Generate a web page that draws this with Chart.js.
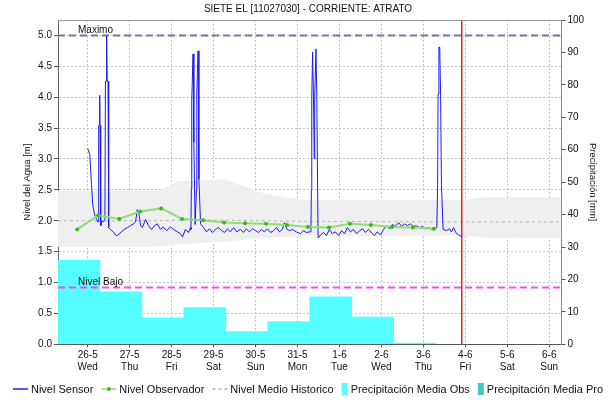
<!DOCTYPE html>
<html>
<head>
<meta charset="utf-8">
<script src="https://cdn.jsdelivr.net/npm/chart.js@4.4.0/dist/chart.umd.min.js"></script>
<style>
html, body { margin: 0; padding: 0; background: #fff; }
</style>
</head>
<body>
<canvas id="chart" width="616" height="405"></canvas>
<script>
// eje x en dias contados desde 26-5 00:00
var diasEtiqueta = ['26-5','27-5','28-5','29-5','30-5','31-5','1-6','2-6','3-6','4-6','5-6','6-6'];
var diasSemana = ['Wed','Thu','Fri','Sat','Sun','Mon','Tue','Wed','Thu','Fri','Sat','Sun'];
var nivelTicks = [0, 0.5, 1, 1.5, 2, 2.5, 3, 3.5, 4, 4.5, 5];
var precipTicks = [0, 10, 20, 30, 40, 50, 60, 70, 80, 90, 100];

var sensorDia = [0.00,0.05,0.09,0.12,0.16,0.21,0.24,0.255,0.262,0.279,0.286,0.293,0.31,0.34,0.374,0.41,0.422,0.441,0.45,0.465,
    0.484,0.50,0.54,0.61,0.68,0.73,0.80,0.87,0.95,1.02,1.09,1.14,1.18,1.22,1.26,1.30,1.38,1.45,1.52,1.59,
    1.66,1.73,1.80,1.88,1.97,2.04,2.14,2.21,2.26,2.33,2.40,2.45,2.46,2.47,2.48,2.51,2.53,2.56,2.59,2.60,2.63,2.65,2.69,
    2.76,2.83,2.90,2.97,3.04,3.12,3.19,3.26,3.33,3.40,3.48,3.55,3.64,3.71,3.78,3.85,3.93,4.00,4.07,4.14,
    4.21,4.28,4.36,4.43,4.50,4.57,4.64,4.69,4.74,4.81,4.88,4.97,5.07,5.14,5.21,5.28,
    5.32,5.33,5.34,5.36,5.38,5.40,5.41,5.44,5.46,5.48,5.49,
    5.55,5.62,5.69,5.76,5.83,5.90,5.98,6.05,6.12,6.19,6.26,6.33,6.41,6.48,6.55,6.62,6.69,6.76,6.83,6.90,
    6.98,7.05,7.12,7.19,7.26,7.33,7.41,7.48,7.55,7.62,7.69,7.76,7.83,7.91,7.98,8.05,8.12,8.20,8.27,8.32,
    8.34,8.35,8.37,8.39,8.41,8.43,8.47,8.55,8.62,8.67,8.72,8.77,8.84,8.91];
var sensorNivel = [3.17,3.07,2.59,2.26,2.11,2.02,1.98,1.98,3.54,3.54,4.03,3.54,1.92,2.00,1.98,2.02,4.26,4.26,4.99,4.26,
    4.26,1.89,1.86,1.82,1.76,1.77,1.82,1.86,1.89,1.92,1.95,1.98,2.18,2.12,1.92,1.89,2.02,1.92,1.86,1.92,
    1.95,1.86,1.90,1.84,1.90,1.86,1.82,1.79,1.74,1.86,1.81,1.89,1.86,2.52,3.97,4.70,3.27,1.94,2.50,4.05,4.75,2.67,1.95,
    1.89,1.82,1.87,1.81,1.86,1.89,1.84,1.81,1.87,1.82,1.89,1.82,1.86,1.81,1.87,1.82,1.87,1.84,1.81,1.86,
    1.82,1.87,1.81,1.84,1.89,1.82,1.86,1.97,1.87,1.84,1.86,1.82,1.79,1.84,1.81,1.82,
    1.82,2.50,4.00,4.73,4.00,3.00,4.00,4.78,4.02,2.48,1.72,
    1.77,1.81,1.76,1.86,1.79,1.82,1.76,1.84,1.79,1.89,1.82,1.86,1.79,1.84,1.87,1.81,1.86,1.81,1.76,1.82,
    1.77,1.86,1.92,1.87,1.94,1.91,1.97,1.91,1.95,1.92,1.95,1.91,1.92,1.89,1.91,1.87,1.89,1.86,1.87,1.89,
    2.59,4.05,4.81,4.81,4.05,2.59,1.86,1.84,1.87,1.82,1.89,1.81,1.77,1.74];

// lecturas del observador 06:00 y 18:00
var obsDia = [-0.25,0.25,0.75,1.25,1.75,2.25,2.75,3.25,3.75,4.25,4.75,5.25,5.75,6.25,6.75,7.25,7.75,8.25];
var obsNivel = [1.86,2.09,2.03,2.15,2.20,2.03,2.01,1.97,1.96,1.95,1.93,1.90,1.89,1.95,1.93,1.90,1.89,1.87];

var histDia = [-0.71, 1.7, 2.15, 3.25, 4.2, 5.05, 9.0, 9.4, 11.29];
var histMax = [2.48, 2.48, 2.64, 2.67, 2.44, 2.34, 2.34, 2.38, 2.38];
var histMin = [1.58, 1.58, 1.62, 1.66, 1.72, 1.75, 1.76, 1.73, 1.72];
var histMedio = [2.00, 2.00, 2.01, 2.01, 2.00, 1.99, 1.98, 1.98, 1.98];

// precipitacion diaria 07:00 - 07:00 (centro del intervalo)
var lluviaDia = [-0.2083, 0.7917, 1.7917, 2.7917, 3.7917, 4.7917, 5.7917, 6.7917, 7.7917];
var lluviaObs = [25.9, 16.2, 8.2, 11.3, 3.9, 7.0, 14.6, 8.4, 0.4];
var lluviaPro = [];

var nivelMaximo = 5.0;
var nivelBajo = 0.92;
var diaActual = 8.915;
var xMin = -0.7083, xMax = 11.2917;
var yMax = 5.25;

function pares(xs, ys) {
    return xs.map(function(x, i){ return {x: x, y: ys[i]}; });
}

var fuente = '"Liberation Sans", Arial, sans-serif';
Chart.defaults.font.family = fuente;
Chart.defaults.font.size = 10;
Chart.defaults.color = '#111';

var extras = {
    id: 'extras',
    afterDatasetsDraw: function(chart) {
        var ctx = chart.ctx, a = chart.chartArea, y = chart.scales.y;
        ctx.save();
        ctx.strokeStyle = '#999';
        ctx.lineWidth = 1;
        ctx.beginPath();
        ctx.moveTo(a.left, a.top + 0.5);
        ctx.lineTo(a.right, a.top + 0.5);
        ctx.stroke();
        ctx.fillStyle = '#111';
        ctx.font = '10px ' + fuente;
        ctx.fillText('Maximo', a.left + 20, y.getPixelForValue(nivelMaximo) - 2);
        ctx.fillText('Nivel Bajo', a.left + 20, y.getPixelForValue(nivelBajo) - 2);
        ctx.restore();
    },
    afterDraw: function(chart) {
        var ctx = chart.ctx;
        var items = chart.data.datasets.filter(function(ds){ return ds.enLeyenda; });
        items.sort(function(a, b){ return a.enLeyenda - b.enLeyenda; });
        ctx.save();
        ctx.font = '11px ' + fuente;
        var anchos = items.map(function(ds){
            return (ds.type === 'bar' ? 6 : 15) + 3 + ctx.measureText(ds.label).width;
        });
        var total = anchos.reduce(function(s, w){ return s + w; }, 0) + 8 * (items.length - 1);
        var x = (chart.width - total) / 2;
        var yc = 389;
        ctx.textBaseline = 'middle';
        items.forEach(function(ds, i){
            var sw = ds.type === 'bar' ? 6 : 15;
            if (ds.type === 'bar') {
                ctx.fillStyle = ds.backgroundColor;
                ctx.fillRect(x, yc - 6, sw, 12);
            } else {
                ctx.strokeStyle = ds.borderColor;
                ctx.lineWidth = 1.5;
                ctx.setLineDash(ds.borderDash || []);
                ctx.beginPath();
                ctx.moveTo(x, yc);
                ctx.lineTo(x + sw, yc);
                ctx.stroke();
                ctx.setLineDash([]);
                if (ds.pointRadius) {
                    ctx.fillStyle = ds.pointBackgroundColor;
                    ctx.beginPath();
                    ctx.arc(x + sw / 2, yc, 2, 0, Math.PI * 2);
                    ctx.fill();
                }
            }
            ctx.fillStyle = '#111';
            ctx.fillText(ds.label, x + sw + 3, yc + 0.5);
            x += anchos[i] + 8;
        });
        ctx.restore();
    }
};

var ctx = document.getElementById('chart').getContext('2d');
var myChart = new Chart(ctx, {
    type: 'line',
    data: {
        datasets: [{
            label: 'Banda Historica',
            data: pares(histDia, histMax),
            borderWidth: 0,
            pointRadius: 0,
            backgroundColor: '#efefef',
            fill: '+1',
            order: 10
        }, {
            label: 'Banda Historica Min',
            data: pares(histDia, histMin),
            borderWidth: 0,
            pointRadius: 0,
            fill: false,
            order: 10
        }, {
            type: 'bar',
            label: 'Precipitación Media Obs',
            enLeyenda: 4,
            data: pares(lluviaDia, lluviaObs),
            yAxisID: 'y2',
            backgroundColor: '#55ffff',
            barPercentage: 1,
            categoryPercentage: 1,
            grouped: false,
            order: 9
        }, {
            type: 'bar',
            label: 'Precipitación Media Pro',
            enLeyenda: 5,
            data: pares(lluviaDia, lluviaPro),
            yAxisID: 'y2',
            backgroundColor: '#44c8c4',
            barPercentage: 1,
            categoryPercentage: 1,
            grouped: false,
            order: 9
        }, {
            label: 'Nivel Medio Historico',
            enLeyenda: 3,
            data: pares(histDia, histMedio),
            borderColor: '#b5b5b5',
            borderWidth: 1,
            borderDash: [3, 3],
            pointRadius: 0,
            fill: false,
            order: 8
        }, {
            label: 'Maximo',
            data: pares([xMin, xMax], [nivelMaximo, nivelMaximo]),
            borderColor: '#6a78a0',
            borderWidth: 2,
            borderDash: [7, 4],
            pointRadius: 0,
            order: 7
        }, {
            label: 'Nivel Bajo',
            data: pares([xMin, xMax], [nivelBajo, nivelBajo]),
            borderColor: '#ff44ff',
            borderWidth: 2,
            borderDash: [7, 4],
            pointRadius: 0,
            order: 7
        }, {
            label: 'Nivel Sensor',
            enLeyenda: 1,
            data: pares(sensorDia, sensorNivel),
            borderColor: '#1c1cf0',
            borderWidth: 1,
            pointRadius: 0,
            tension: 0,
            order: 3
        }, {
            label: 'Nivel Observador',
            enLeyenda: 2,
            data: pares(obsDia, obsNivel),
            borderColor: '#92dc78',
            borderWidth: 2,
            pointRadius: 2,
            pointBorderWidth: 0,
            pointBackgroundColor: '#3cb821',
            order: 2
        }, {
            label: 'Ahora',
            data: pares([diaActual, diaActual], [0, yMax]),
            borderColor: '#d62828',
            borderWidth: 1.5,
            pointRadius: 0,
            order: 1
        }]
    },
    options: {
        responsive: false,
        animation: false,
        layout: { padding: { left: 0, right: 0, top: 0, bottom: 30 } },
        plugins: {
            legend: { display: false },
            tooltip: { enabled: false },
            title: {
                display: true,
                text: 'SIETE EL [11027030] - CORRIENTE: ATRATO',
                color: '#111',
                font: { size: 10, weight: 'normal' },
                padding: { top: 3, bottom: 5 }
            }
        },
        scales: {
            x: {
                type: 'linear',
                offset: false,
                min: xMin,
                max: xMax,
                afterBuildTicks: function(scale) {
                    scale.ticks = diasEtiqueta.map(function(d, i){ return {value: i}; });
                },
                afterFit: function(scale) {
                    scale.height = 30.7;
                    scale.paddingLeft = 0;
                    scale.paddingRight = 0;
                },
                ticks: {
                    autoSkip: false,
                    maxRotation: 0,
                    padding: 2,
                    callback: function(v) {
                        var i = Math.round(v);
                        return [diasEtiqueta[i], diasSemana[i]];
                    }
                },
                grid: { offset: false, color: '#c4c4c4', tickLength: 3, tickColor: '#555' },
                border: { color: '#555', dash: [2, 2] }
            },
            y: {
                position: 'left',
                min: 0,
                max: yMax,
                afterBuildTicks: function(scale) {
                    scale.ticks = nivelTicks.map(function(v){ return {value: v}; });
                },
                afterFit: function(scale) { scale.width = 58; },
                ticks: {
                    padding: 2,
                    callback: function(v) { return v.toFixed(1); }
                },
                title: {
                    display: true,
                    text: 'Nivel del Agua [m]',
                    font: { size: 9.5 },
                    padding: { top: 22, bottom: 0 }
                },
                grid: { color: '#c4c4c4', tickLength: 4, tickColor: '#555' },
                border: { color: '#666', dash: [2, 2] }
            },
            y2: {
                position: 'right',
                min: 0,
                max: 100,
                afterBuildTicks: function(scale) {
                    scale.ticks = precipTicks.map(function(v){ return {value: v}; });
                },
                afterFit: function(scale) { scale.width = 54.5; },
                ticks: { padding: 2 },
                title: {
                    display: true,
                    text: 'Precipitación [mm]',
                    font: { size: 9.5 },
                    padding: { top: 18, bottom: 0 }
                },
                grid: { drawOnChartArea: false, tickLength: 4, tickColor: '#555' },
                border: { color: '#888' }
            }
        }
    },
    plugins: [extras]
});
</script>
</body>
</html>
